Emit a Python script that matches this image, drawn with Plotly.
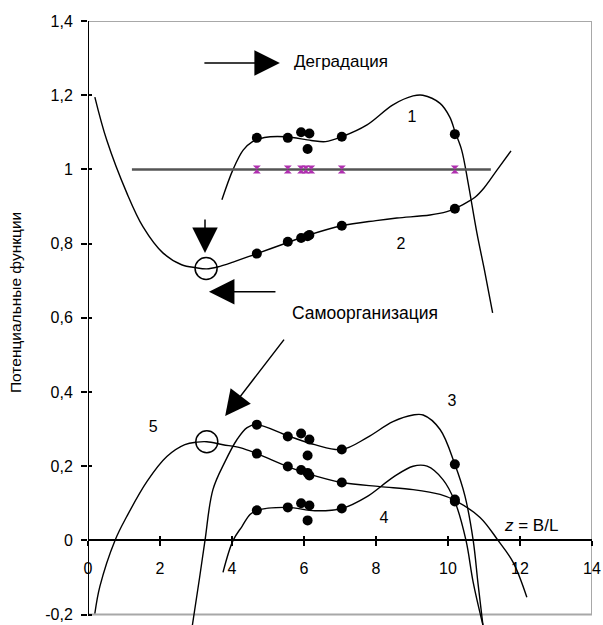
import plotly.graph_objects as go

# ---- trend curves (z, value) ----
c1_x = [3.72, 4.03, 4.31, 4.56, 4.9, 5.5, 6.2, 6.6, 7.05, 7.75, 8.47, 9.03, 9.3, 9.78, 10.05, 10.2, 10.38, 10.56, 10.8, 11.03, 11.24]
c1_y = [0.918, 1.0, 1.052, 1.074, 1.086, 1.088, 1.078, 1.075, 1.088, 1.12, 1.174, 1.198, 1.2, 1.178, 1.141, 1.1, 1.052, 0.963, 0.83, 0.72, 0.613]

c2_x = [0.19, 0.52, 1.08, 1.53, 2.08, 2.6, 3.0, 3.3, 3.6, 4.03, 4.69, 5.55, 6.1, 7.05, 8.0, 8.58, 9.5, 9.97, 10.19, 10.5, 10.75, 11.0, 11.36, 11.75]
c2_y = [1.195, 1.079, 0.936, 0.845, 0.775, 0.743, 0.735, 0.732, 0.737, 0.75, 0.773, 0.803, 0.822, 0.848, 0.862, 0.869, 0.877, 0.886, 0.894, 0.91, 0.925, 0.95, 0.998, 1.05]

c3_x = [2.9, 3.1, 3.25, 3.47, 3.81, 4.14, 4.42, 4.69, 5.55, 6.3, 7.05, 7.75, 8.47, 9.03, 9.31, 9.78, 10.19, 10.47, 10.7, 10.83, 10.97]
c3_y = [-0.228, -0.1, 0.0, 0.137, 0.213, 0.272, 0.304, 0.312, 0.282, 0.258, 0.245, 0.277, 0.32, 0.338, 0.338, 0.299, 0.205, 0.12, 0.0, -0.113, -0.228]

c4_x = [3.75, 4.03, 4.28, 4.5, 4.69, 5.55, 6.3, 7.05, 7.75, 8.47, 9.03, 9.42, 9.86, 10.19, 10.5, 10.7, 10.97]
c4_y = [-0.086, 0.0, 0.038, 0.07, 0.081, 0.089, 0.08, 0.086, 0.118, 0.17, 0.2, 0.2, 0.164, 0.105, 0.0, -0.113, -0.228]

c5_x = [0.19, 0.33, 0.75, 1.08, 1.64, 2.19, 2.69, 3.03, 3.3, 3.75, 4.22, 4.69, 5.55, 6.1, 7.05, 8.11, 9.03, 9.78, 10.19, 10.89, 11.39, 11.81, 12.19]
c5_y = [-0.197, -0.124, 0.0, 0.065, 0.159, 0.226, 0.258, 0.265, 0.266, 0.258, 0.25, 0.234, 0.199, 0.18, 0.156, 0.145, 0.137, 0.124, 0.108, 0.062, 0.0, -0.059, -0.153]

# ---- measured points ----
pts_x = [4.69, 5.55, 5.92, 6.15, 6.1, 7.05, 10.19]
pts_1 = [1.085, 1.085, 1.10, 1.097, 1.055, 1.088, 1.095]
pts_2 = [0.773, 0.805, 0.815, 0.823, 0.82, 0.848, 0.894]
pts_3 = [0.312, 0.28, 0.288, 0.272, 0.229, 0.245, 0.205]
pts_4 = [0.081, 0.089, 0.10, 0.094, 0.054, 0.086, 0.11]
pts_5 = [0.234, 0.199, 0.19, 0.175, 0.182, 0.156, 0.105]

# ---- reference level ----
level_x = [1.22, 11.19]
level_y = [1.0, 1.0]
level_pts_x = [4.69, 5.55, 5.92, 6.05, 6.2, 7.05, 10.19]
level_pts_y = [1.0, 1.0, 1.0, 1.0, 1.0, 1.0, 1.0]

# ---- extremum points ----
ext_x = [3.28, 3.3]
ext_y = [0.733, 0.266]

# ---- curve labels ----
lab_text = ["1", "2", "3", "4", "5"]
lab_x = [9.0, 8.69, 10.11, 8.22, 1.81]
lab_y = [1.138, 0.797, 0.373, 0.058, 0.303]

# ---- axis ticks ----
x_ticks = [0, 2, 4, 6, 8, 10, 12, 14]
y_ticks = [-0.2, 0, 0.2, 0.4, 0.6, 0.8, 1.0, 1.2, 1.4]
y_tick_text = ["-0,2", "0", "0,2", "0,4", "0,6", "0,8", "1", "1,2", "1,4"]

FONT = "Liberation Sans, Arial, sans-serif"
X_RANGE = [0, 14]
Y_RANGE = [-0.228, 1.4]

fig = go.Figure()

for cx, cy in [(c1_x, c1_y), (c2_x, c2_y), (c3_x, c3_y), (c4_x, c4_y), (c5_x, c5_y)]:
    fig.add_trace(go.Scatter(
        x=cx, y=cy, mode="lines",
        line=dict(color="black", width=1.4, shape="spline", smoothing=1.0),
        hoverinfo="skip", showlegend=False))

fig.add_trace(go.Scatter(
    x=level_x, y=level_y, mode="lines",
    line=dict(color="#555555", width=2.5),
    hoverinfo="skip", showlegend=False))
fig.add_trace(go.Scatter(
    x=level_pts_x, y=level_pts_y, mode="markers",
    marker=dict(symbol="hourglass", size=8, color="#B030B0"),
    showlegend=False))

for py in [pts_1, pts_2, pts_3, pts_4, pts_5]:
    fig.add_trace(go.Scatter(
        x=pts_x, y=py, mode="markers",
        marker=dict(symbol="circle", size=10, color="black"),
        showlegend=False))

fig.add_trace(go.Scatter(
    x=ext_x, y=ext_y, mode="markers",
    marker=dict(symbol="circle-open", size=22, color="black", line=dict(width=1.5)),
    showlegend=False))

fig.add_trace(go.Scatter(
    x=lab_x, y=lab_y, mode="text", text=lab_text,
    textfont=dict(family=FONT, size=16, color="black"),
    showlegend=False))

# companion axes carrying the inner half of the crossing tick marks
fig.add_trace(go.Scatter(x=[], y=[], xaxis="x2", yaxis="y2", showlegend=False))

x_pos = (0 - Y_RANGE[0]) / (Y_RANGE[1] - Y_RANGE[0])

fig.update_layout(
    width=603, height=625,
    margin=dict(l=88, r=11, t=21, b=0),
    paper_bgcolor="white", plot_bgcolor="white",
    font=dict(family=FONT, size=16, color="black"),
    xaxis=dict(
        range=X_RANGE, anchor="free", position=x_pos,
        showline=True, linecolor="black", linewidth=2,
        ticks="outside", ticklen=5, tickwidth=1.5, tickcolor="black",
        tickvals=x_ticks, ticktext=[str(v) for v in x_ticks],
        ticklabelstandoff=8,
        showgrid=False, zeroline=False,
    ),
    yaxis=dict(
        range=Y_RANGE, showline=False,
        ticks="outside", ticklen=6, tickwidth=1.5, tickcolor="black",
        tickvals=y_ticks, ticktext=y_tick_text,
        ticklabelstandoff=5,
        showgrid=False, zeroline=False,
    ),
    xaxis2=dict(
        range=X_RANGE, overlaying="x", anchor="free", position=x_pos,
        showline=False, ticks="inside", ticklen=4, tickwidth=1.5, tickcolor="black",
        tickvals=x_ticks, showticklabels=False, showgrid=False, zeroline=False,
    ),
    yaxis2=dict(
        range=Y_RANGE, overlaying="y", anchor="x2",
        showline=False, ticks="inside", ticklen=4, tickwidth=1.5, tickcolor="black",
        tickvals=y_ticks, showticklabels=False, showgrid=False, zeroline=False,
    ),
    shapes=[
        dict(type="rect", xref="x", yref="y", x0=0, x1=14, y0=-0.2, y1=1.4,
             line=dict(color="#A8A8A8", width=2), layer="below"),
        dict(type="line", xref="x", yref="y", x0=0, x1=0, y0=-0.2, y1=1.4,
             line=dict(color="black", width=2)),
    ],
)

arrow = dict(showarrow=True, arrowhead=2, arrowsize=3.4, arrowwidth=1.5,
             arrowcolor="black", text="", standoff=0, startstandoff=0,
             xref="x", yref="y")

fig.add_annotation(x=5.33, y=1.287, ax=-77, ay=0, **arrow)
fig.add_annotation(x=3.25, y=0.775, ax=0, ay=-35, **arrow)
fig.add_annotation(x=3.36, y=0.670, ax=68, ay=0, **arrow)
fig.add_annotation(x=3.81, y=0.335, ax=60, ay=-78, **arrow)

fig.add_annotation(x=5.67, y=1.29, text="Деградация", showarrow=False,
                   xanchor="left", yanchor="middle", font=dict(size=17))
fig.add_annotation(x=5.61, y=0.613, text="Самоорганизация", showarrow=False,
                   xanchor="left", yanchor="middle", font=dict(size=17.5))
fig.add_annotation(x=12.3, y=0.0415, text="<i>z</i> = B/L", showarrow=False,
                   xanchor="center", yanchor="middle", font=dict(size=17))
fig.add_annotation(xref="paper", yref="paper", x=-0.1448, y=0.533,
                   text="Потенциальные функции", textangle=-90, showarrow=False,
                   xanchor="center", yanchor="middle", font=dict(size=15.5))

fig.write_html("out.html")
